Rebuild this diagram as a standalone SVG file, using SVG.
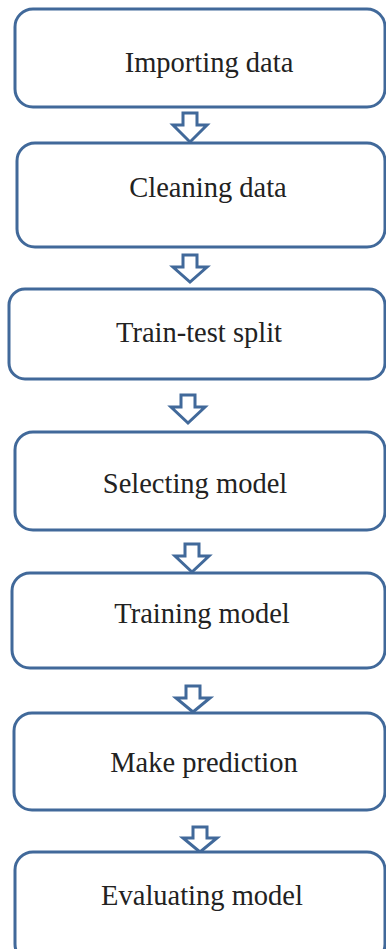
<svg xmlns="http://www.w3.org/2000/svg" width="386" height="949" viewBox="0 0 386 949">
<style>
.box{fill:#fff;stroke:#41699a;stroke-width:3}
.lbl{font-family:"Liberation Serif","Times New Roman",serif;font-size:28.5px;fill:#222;text-anchor:middle}
.arr{fill:#fff;stroke:#41699a;stroke-width:3;stroke-linejoin:miter}
</style>
<rect width="386" height="949" fill="#fff"/>
<g id="connectors">
<path class="arr" d="M183,113 H197 V125 H207 L190,142 L173,125 H183 Z"/>
<path class="arr" d="M183,255 H197 V267 H207 L190,282 L173,267 H183 Z"/>
<path class="arr" d="M181,395 H195 V407 H205 L188,423 L171,407 H181 Z"/>
<path class="arr" d="M185,544 H199 V556 H209 L192,572 L175,556 H185 Z"/>
<path class="arr" d="M186,686 H200 V698 H210 L193,712 L176,698 H186 Z"/>
<path class="arr" d="M193,827 H207 V838 H217 L200,852 L183,838 H193 Z"/>
</g>
<g id="n1"><rect class="box" x="15" y="9" width="370" height="98" rx="18"/><text class="lbl" x="209" y="72">Importing data</text></g>
<g id="n2"><rect class="box" x="17" y="143" width="368" height="104" rx="18"/><text class="lbl" x="208" y="197">Cleaning data</text></g>
<g id="n3"><rect class="box" x="9" y="289" width="376" height="90" rx="16"/><text class="lbl" x="199" y="342">Train-test split</text></g>
<g id="n4"><rect class="box" x="15" y="432" width="370" height="98" rx="18"/><text class="lbl" x="195" y="493">Selecting model</text></g>
<g id="n5"><rect class="box" x="12" y="573" width="373" height="95" rx="18"/><text class="lbl" x="202" y="623">Training model</text></g>
<g id="n6"><rect class="box" x="14" y="713" width="371" height="97" rx="18"/><text class="lbl" x="204" y="772">Make prediction</text></g>
<g id="n7"><rect class="box" x="15" y="852" width="370" height="110" rx="18"/><text class="lbl" x="202" y="905">Evaluating model</text></g>
</svg>
